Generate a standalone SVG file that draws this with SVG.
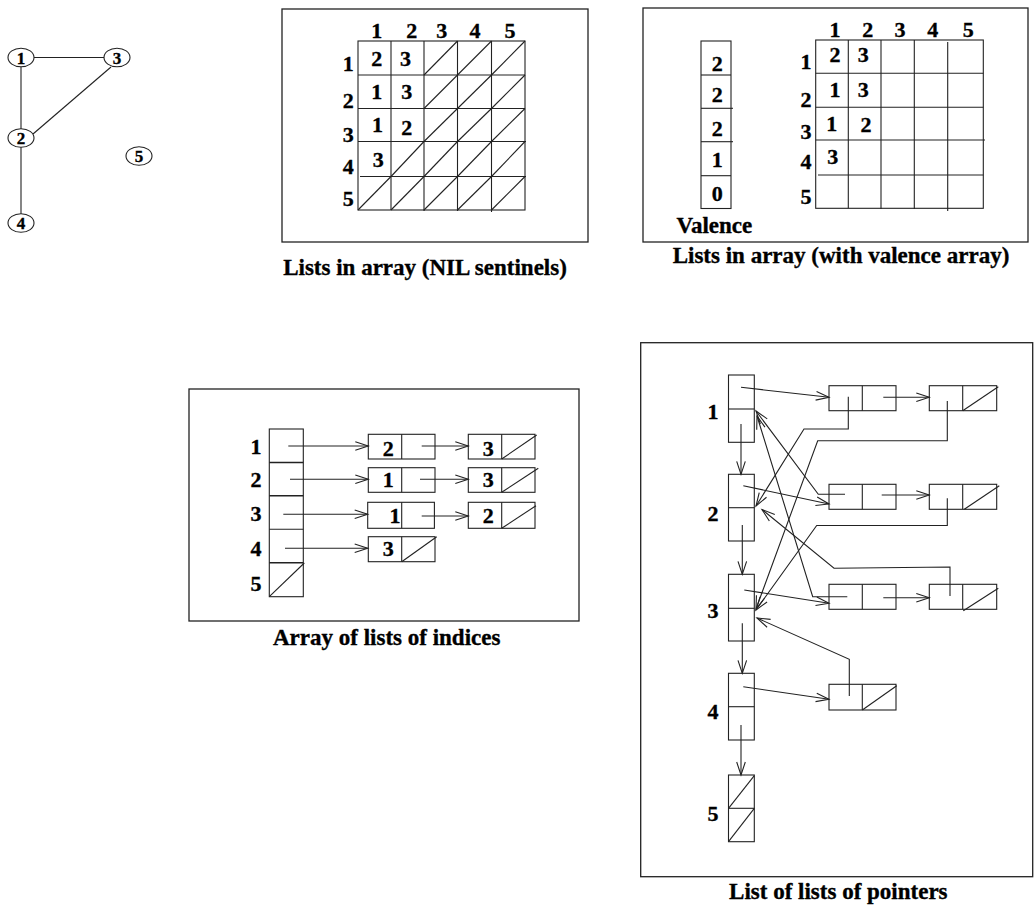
<svg xmlns="http://www.w3.org/2000/svg" width="1036" height="906" viewBox="0 0 1036 906">
  <style>
    .ln { stroke: #222; stroke-width: 1.1; fill: none; }
    .bx { stroke: #222; stroke-width: 1.1; fill: #fff; }
    .fr { stroke: #222; stroke-width: 1.3; fill: none; }
    .t { font-family: "Liberation Serif", "Times New Roman", serif; font-weight: bold; font-size: 22px; fill: #000; stroke: #000; stroke-width: 0.35; text-anchor: middle; }
    .sm { font-size: 17px; }
    .cap { font-size: 23px; }
  </style>
  <defs>
    <marker id="ah" markerUnits="userSpaceOnUse" markerWidth="16" markerHeight="12" viewBox="-14 -6 16 12" refX="0" refY="0" orient="auto">
      <path d="M-13,-4.3 L0,0 L-13,4.3" fill="none" stroke="#222" stroke-width="1.1"/>
    </marker>
  </defs>
  <rect width="1036" height="906" fill="#fff"/>

  <!-- Undirected graph with five vertices -->
  <g id="graph">
    <g id="graph-edges" class="ln">
      <line x1="34" y1="57.5" x2="104" y2="57.5"/>
      <line x1="21" y1="67" x2="21" y2="129"/>
      <line x1="33" y1="134" x2="111" y2="67"/>
      <line x1="21" y1="147" x2="21" y2="214"/>
    </g>
    <g id="v1"><ellipse class="bx" cx="21" cy="57.5" rx="13" ry="9.3"/><text class="t sm" x="21" y="63.5">1</text></g>
    <g id="v3"><ellipse class="bx" cx="117" cy="57.5" rx="13" ry="9.3"/><text class="t sm" x="117" y="63.5">3</text></g>
    <g id="v2"><ellipse class="bx" cx="21" cy="138" rx="13" ry="9.3"/><text class="t sm" x="21" y="144">2</text></g>
    <g id="v5"><ellipse class="bx" cx="139" cy="156" rx="13" ry="9.3"/><text class="t sm" x="139" y="162">5</text></g>
    <g id="v4"><ellipse class="bx" cx="21" cy="223" rx="13" ry="9.3"/><text class="t sm" x="21" y="229">4</text></g>
  </g>

  <!-- Lists in array with NIL sentinels -->
  <g id="nil-array">
    <rect class="fr" x="282" y="9" width="306" height="233"/>
    <g class="ln">
      <rect x="358" y="41" width="167" height="169"/>
      <line x1="391" y1="41" x2="391" y2="210"/>
      <line x1="424" y1="41" x2="424" y2="211"/>
      <line x1="457.5" y1="41" x2="457.5" y2="211"/>
      <line x1="491.5" y1="41" x2="491.5" y2="212"/>
      <line x1="358" y1="75" x2="525" y2="75"/>
      <line x1="358" y1="108.5" x2="525" y2="108.5"/>
      <line x1="358" y1="141.5" x2="526" y2="141.5"/>
      <line x1="360" y1="176.5" x2="526" y2="176.5"/>
      <!-- NIL marks -->
      <line x1="424" y1="75" x2="457.5" y2="41"/>
      <line x1="457.5" y1="75" x2="491.5" y2="41"/>
      <line x1="491.5" y1="75" x2="525" y2="41"/>
      <line x1="424" y1="108.5" x2="457.5" y2="75"/>
      <line x1="457.5" y1="108.5" x2="491.5" y2="75"/>
      <line x1="491.5" y1="108.5" x2="525" y2="75"/>
      <line x1="424" y1="141.5" x2="457.5" y2="108.5"/>
      <line x1="457.5" y1="141.5" x2="491.5" y2="108.5"/>
      <line x1="491.5" y1="141.5" x2="525" y2="108.5"/>
      <line x1="391" y1="176.5" x2="424" y2="141.5"/>
      <line x1="424" y1="176.5" x2="457.5" y2="141.5"/>
      <line x1="457.5" y1="176.5" x2="491.5" y2="141.5"/>
      <line x1="491.5" y1="176.5" x2="525" y2="141.5"/>
      <line x1="358" y1="210" x2="391" y2="176.5"/>
      <line x1="391" y1="210" x2="424" y2="176.5"/>
      <line x1="424" y1="210" x2="457.5" y2="176.5"/>
      <line x1="457.5" y1="210" x2="491.5" y2="176.5"/>
      <line x1="491.5" y1="210" x2="525" y2="176.5"/>
    </g>
    <g class="t">
      <text x="376.7" y="38">1</text><text x="411.7" y="38">2</text><text x="441.7" y="38">3</text><text x="475" y="38">4</text><text x="510" y="38">5</text>
      <text x="348.3" y="71">1</text><text x="348.3" y="107.5">2</text><text x="348.3" y="142">3</text><text x="348.3" y="173.5">4</text><text x="348.3" y="205.5">5</text>
      <text x="376.7" y="65.5">2</text><text x="405.5" y="65.5">3</text>
      <text x="376.7" y="99">1</text><text x="406.7" y="99">3</text>
      <text x="377.5" y="132">1</text><text x="406.7" y="134.5">2</text>
      <text x="378.3" y="167">3</text>
    </g>
    <text class="t cap" x="425" y="275">Lists in array (NIL sentinels)</text>
  </g>

  <!-- Lists in array with a separate valence array -->
  <g id="valence-array">
    <rect class="fr" x="643" y="8" width="385" height="234"/>
    <g id="valence" class="ln">
      <rect x="701" y="41" width="30" height="167.5"/>
      <line x1="701" y1="75" x2="731" y2="75"/>
      <line x1="701" y1="108.3" x2="733" y2="108.3"/>
      <line x1="701" y1="141.7" x2="733" y2="141.7"/>
      <line x1="701" y1="175.7" x2="731" y2="175.7"/>
    </g>
    <g class="t">
      <text x="717.3" y="70.5">2</text><text x="717.3" y="102">2</text><text x="717.3" y="135.5">2</text><text x="717.3" y="167">1</text><text x="717.3" y="200.5">0</text>
    </g>
    <text class="t cap" x="714.3" y="233.3">Valence</text>
    <g class="ln">
      <rect x="815.7" y="40" width="167.6" height="168.3"/>
      <line x1="848.3" y1="40" x2="848.3" y2="208.3"/>
      <line x1="881" y1="40" x2="881" y2="209"/>
      <line x1="914.3" y1="40" x2="914.3" y2="209"/>
      <line x1="947.7" y1="42" x2="947.7" y2="211"/>
      <line x1="815.7" y1="73.3" x2="983.3" y2="73.3"/>
      <line x1="815.7" y1="107.3" x2="983.3" y2="107.3"/>
      <line x1="815.7" y1="140" x2="985" y2="140"/>
      <line x1="818" y1="175" x2="983.3" y2="175"/>
    </g>
    <g class="t">
      <text x="835" y="36.7">1</text><text x="867.7" y="36.7">2</text><text x="900" y="36.7">3</text><text x="932.7" y="36.7">4</text><text x="968.3" y="36.7">5</text>
      <text x="806" y="68.8">1</text><text x="806" y="107">2</text><text x="806" y="138.8">3</text><text x="806" y="168.8">4</text><text x="806" y="203.8">5</text>
      <text x="835" y="61.5">2</text><text x="863.3" y="61.5">3</text>
      <text x="835" y="97">1</text><text x="863.3" y="97">3</text>
      <text x="831.7" y="130.5">1</text><text x="866" y="132">2</text>
      <text x="832.7" y="163.8">3</text>
    </g>
    <text class="t cap" x="841" y="263">Lists in array (with valence array)</text>
  </g>

  <!-- Array of lists of indices -->
  <g id="index-lists">
    <rect class="fr" x="189" y="389" width="390" height="232"/>
    <g id="idx-array" class="ln">
      <rect x="269.3" y="429" width="34" height="167.7"/>
      <line x1="269.3" y1="462.5" x2="303.3" y2="462.5" stroke-width="1.6"/>
      <line x1="269.3" y1="495.7" x2="303.3" y2="495.7" stroke-width="1.6"/>
      <line x1="269.3" y1="529.3" x2="303.3" y2="529.3"/>
      <line x1="269.3" y1="562.7" x2="303.3" y2="562.7" stroke-width="1.6"/>
      <line x1="269.3" y1="596.7" x2="304.3" y2="563"/>
    </g>
    <g class="t">
      <text x="256" y="453.8">1</text><text x="256" y="487.2">2</text><text x="256" y="520.5">3</text><text x="256" y="555.5">4</text><text x="256" y="590.5">5</text>
    </g>
    <g id="idx-r1a"><rect class="bx" x="368.3" y="434.3" width="66.7" height="24.7"/><line class="ln" x1="401.7" y1="434.3" x2="401.7" y2="459"/><text class="t" x="388.3" y="455.5">2</text></g>
    <g id="idx-r1b"><rect class="bx" x="468.3" y="434.3" width="66.7" height="24.7"/><line class="ln" x1="501.7" y1="434.3" x2="501.7" y2="459"/><line class="ln" x1="501.7" y1="459" x2="536.7" y2="435"/><text class="t" x="488.3" y="455.5">3</text></g>
    <g id="idx-r2a"><rect class="bx" x="368.3" y="467.7" width="66.7" height="24.6"/><line class="ln" x1="401.7" y1="467.7" x2="401.7" y2="492.3"/><text class="t" x="388.3" y="487.2">1</text></g>
    <g id="idx-r2b"><rect class="bx" x="468.3" y="467.7" width="66.7" height="24.6"/><line class="ln" x1="501.7" y1="467.7" x2="501.7" y2="492.3"/><line class="ln" x1="501.7" y1="492.3" x2="538.3" y2="468.3"/><text class="t" x="488.3" y="487.2">3</text></g>
    <g id="idx-r3a"><rect class="bx" x="367.7" y="502.3" width="66.7" height="26"/><line class="ln" x1="401.7" y1="502.3" x2="401.7" y2="528.3"/><text class="t" x="395" y="523.2">1</text></g>
    <g id="idx-r3b"><rect class="bx" x="468.3" y="502.3" width="66.7" height="26"/><line class="ln" x1="501.7" y1="502.3" x2="501.7" y2="528.3"/><line class="ln" x1="501.7" y1="528.3" x2="536" y2="505.7"/><text class="t" x="488.3" y="523.2">2</text></g>
    <g id="idx-r4a"><rect class="bx" x="368.3" y="536.7" width="66.7" height="25"/><line class="ln" x1="401.7" y1="536.7" x2="401.7" y2="561.7"/><line class="ln" x1="401.7" y1="561.7" x2="436.7" y2="536.7"/><text class="t" x="388.3" y="555.5">3</text></g>
    <g id="idx-links" class="ln" marker-end="url(#ah)">
      <line x1="288.3" y1="446" x2="368.3" y2="446"/>
      <line x1="421.7" y1="446" x2="468.3" y2="446"/>
      <line x1="290" y1="479.3" x2="368.3" y2="479.3"/>
      <line x1="420" y1="479.3" x2="468.3" y2="479.3"/>
      <line x1="283.3" y1="514.3" x2="367.7" y2="514.3"/>
      <line x1="421.7" y1="516" x2="468.3" y2="516"/>
      <line x1="285" y1="548.3" x2="367.7" y2="548.3"/>
    </g>
    <text class="t cap" x="386.7" y="645">Array of lists of indices</text>
  </g>

  <!-- List of lists of pointers -->
  <g id="pointer-lists">
    <rect class="fr" x="640.7" y="342.7" width="392" height="534"/>
    <g id="p1"><rect class="bx" x="728.5" y="375" width="25.8" height="67.3"/><line class="ln" x1="728.5" y1="409" x2="754.3" y2="409"/></g>
    <g id="p2"><rect class="bx" x="728.5" y="474.3" width="25.8" height="66.7"/><line class="ln" x1="728.5" y1="507.7" x2="754.3" y2="507.7"/></g>
    <g id="p3"><rect class="bx" x="728.5" y="574.3" width="25.8" height="66.7"/><line class="ln" x1="728.5" y1="608.3" x2="754.3" y2="608.3"/></g>
    <g id="p4"><rect class="bx" x="728.5" y="673.3" width="25.8" height="66.7"/><line class="ln" x1="728.5" y1="706.7" x2="754.3" y2="706.7"/></g>
    <g id="p5"><rect class="bx" x="728.5" y="775" width="25.8" height="66.7"/><line class="ln" x1="728.5" y1="808.3" x2="754.3" y2="808.3"/><line class="ln" x1="728.5" y1="808.3" x2="754.3" y2="775.7"/><line class="ln" x1="728.5" y1="841.7" x2="754.3" y2="808.3"/></g>
    <g class="t">
      <text x="713" y="418.8">1</text><text x="713" y="520.5">2</text><text x="713" y="617.9">3</text><text x="713" y="718.9">4</text><text x="713" y="820.5">5</text>
    </g>
    <g id="p1a"><rect class="bx" x="829" y="385.7" width="67" height="25"/><line class="ln" x1="862.3" y1="385.7" x2="862.3" y2="410.7"/></g>
    <g id="p1b"><rect class="bx" x="929.3" y="385.7" width="67.4" height="25"/><line class="ln" x1="962.7" y1="385.7" x2="962.7" y2="410.7"/><line class="ln" x1="962.7" y1="410.7" x2="998.3" y2="386.7"/></g>
    <g id="p2a"><rect class="bx" x="829" y="484.3" width="67" height="25"/><line class="ln" x1="862.3" y1="484.3" x2="862.3" y2="509.3"/></g>
    <g id="p2b"><rect class="bx" x="929.3" y="484.3" width="67.4" height="25"/><line class="ln" x1="962.7" y1="484.3" x2="962.7" y2="509.3"/><line class="ln" x1="964.3" y1="509.3" x2="999.3" y2="485.7"/></g>
    <g id="p3a"><rect class="bx" x="829" y="584.3" width="67" height="25"/><line class="ln" x1="862.3" y1="584.3" x2="862.3" y2="609.3"/></g>
    <g id="p3b"><rect class="bx" x="929.3" y="584.3" width="67.4" height="25"/><line class="ln" x1="962.7" y1="584.3" x2="962.7" y2="609.3"/><line class="ln" x1="963.3" y1="610.7" x2="998.3" y2="588.3"/></g>
    <g id="p4a"><rect class="bx" x="829" y="684.3" width="67" height="25.7"/><line class="ln" x1="862.3" y1="684.3" x2="862.3" y2="710"/><line class="ln" x1="862.3" y1="710" x2="896.7" y2="685.7"/></g>
    <g id="ptr-links" class="ln" marker-end="url(#ah)">
      <line x1="741" y1="424" x2="741" y2="474.3"/>
      <line x1="742.3" y1="525" x2="742.3" y2="574.3"/>
      <line x1="742.3" y1="623.3" x2="742.3" y2="673.3"/>
      <line x1="741" y1="725" x2="741" y2="775"/>
      <line x1="741" y1="387.3" x2="829" y2="397.3"/>
      <line x1="883.3" y1="397.3" x2="929.3" y2="397.3"/>
      <line x1="743.3" y1="485.7" x2="829" y2="504"/>
      <line x1="881.7" y1="495" x2="929.3" y2="495"/>
      <line x1="744.3" y1="590" x2="829" y2="603.3"/>
      <line x1="883.3" y1="597.7" x2="929.3" y2="597.7"/>
      <line x1="743.3" y1="686.7" x2="829" y2="699.3"/>
      <polyline points="848.3,396.7 848.3,429 804,429 756,506"/>
      <polyline points="947.3,401 947.3,440.7 817.7,440.7 756,609"/>
      <polyline points="845,494.3 818.3,494.3 756,411"/>
      <polyline points="947.3,498.3 947.3,525.5 816.7,525.5 756,610"/>
      <polyline points="847.3,596.7 812.7,596.7 757,416"/>
      <polyline points="950,596 950,567 834,568.3 762,509.5"/>
      <polyline points="849.3,696 849.3,659.3 757,618"/>
    </g>
    <text class="t cap" x="838.3" y="899">List of lists of pointers</text>
  </g>
</svg>
